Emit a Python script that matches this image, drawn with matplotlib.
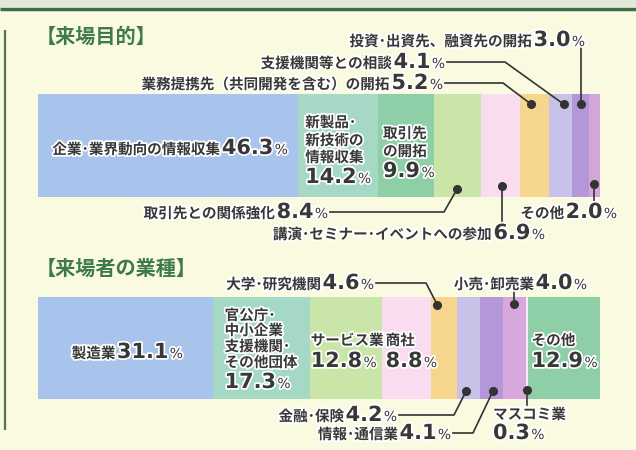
import matplotlib
matplotlib.use('Agg')
import matplotlib.pyplot as plt
import numpy as np
from matplotlib.offsetbox import TextArea, HPacker, AnnotationBbox
import matplotlib.patheffects as pe

# ---------------- data ----------------
purpose_labels = ['企業･業界動向の情報収集', '新製品･\n新技術の\n情報収集', '取引先\nの開拓',
                  '取引先との関係強化', '講演･セミナー･イベントへの参加',
                  '業務提携先（共同開発を含む）の開拓', '支援機関等との相談',
                  '投資･出資先、融資先の開拓', 'その他']
purpose_values = [46.3, 14.2, 9.9, 8.4, 6.9, 5.2, 4.1, 3.0, 2.0]
purpose_colors = ['#a9c4ec', '#a6d8c6', '#8ecfa8', '#c9e6a8', '#fadcf0',
                  '#f5d68c', '#c9c2e8', '#b397d8', '#d3a6da']

industry_labels = ['製造業', '官公庁･\n中小企業\n支援機関･\nその他団体', 'サービス業', '商社',
                   '大学･研究機関', '金融･保険', '情報･通信業', '小売･卸売業',
                   'マスコミ業', 'その他']
industry_values = [31.1, 17.3, 12.8, 8.8, 4.6, 4.2, 4.1, 4.0, 0.3, 12.9]
industry_colors = ['#a9c4ec', '#a6d8c6', '#c9e6a8', '#fadcf0', '#f5d68c',
                   '#c9c2e8', '#b397d8', '#d8a8dc', '#f1eef6', '#8ecfa8']

titles = ['【来場目的】', '【来場者の業種】']

# ---------------- style ----------------
BG = '#fafae1'
TXT = '#383838'
GREEN = '#3f7a4c'
LINE = '#333333'
JP = ['Noto Sans CJK JP', 'DejaVu Sans']
stroke = [pe.withStroke(linewidth=2.5, foreground='white')]
W, H = 636, 450

fig = plt.figure(figsize=(6.36, 4.5), dpi=100)
fig.patch.set_facecolor(BG)

ov = fig.add_axes([0, 0, 1, 1], zorder=5)
ov.set_xlim(0, W)
ov.set_ylim(H, 0)
ov.axis('off')
ov.patch.set_alpha(0)

# frame decorations
ov.add_patch(plt.Rectangle((0, 0), W, 7, color='#e4e7dc', lw=0))
ov.plot([0, W], [8.5, 8.5], color='#3d6b47', lw=2.5, solid_capstyle='butt')
ov.plot([5, 5], [30, 430], color='#56705a', lw=1.6, solid_capstyle='butt')


def bar_axes(values, colors, top, bottom, left=38, right=600):
    ax = fig.add_axes([left / W, 1 - bottom / H, (right - left) / W, (bottom - top) / H], zorder=2)
    lefts = np.concatenate([[0], np.cumsum(values)[:-1]])
    ax.barh(0.5, values, left=lefts, height=1, color=colors, edgecolor='none')
    ax.set_xlim(0, sum(values))
    ax.set_ylim(0, 1)
    ax.axis('off')
    return ax, lefts


ax1, left1 = bar_axes(purpose_values, purpose_colors, 94, 197)
ax2, left2 = bar_axes(industry_values, industry_colors, 297, 399)


def px(ax, x, y):
    return ov.transData.inverted().transform(ax.transData.transform((x, y)))


def seg_point(ax, lefts, values, i, frac, yfrac):
    return px(ax, lefts[i] + values[i] * frac, yfrac)


def props(kind):
    if kind == 'jp':
        d = dict(fontsize=10.5, fontweight='bold', family=JP, color=TXT)
    elif kind == 'num':
        d = dict(fontsize=15, fontweight='bold', family=['DejaVu Sans'], color=TXT)
    else:
        d = dict(fontsize=10, family=['DejaVu Sans'], color=TXT)
    d['path_effects'] = stroke
    return d


def mixed(x, y, jp, value, align=1.0):
    parts = []
    if jp:
        parts.append(TextArea(jp, textprops=props('jp')))
    parts.append(TextArea(f'{value:.1f}', textprops=props('num')))
    parts.append(TextArea('%', textprops=props('pct')))
    box = HPacker(children=parts, align='baseline', pad=0, sep=1)
    ab = AnnotationBbox(box, (x, y), xycoords=ov.transData, box_alignment=(align, 0.5),
                        frameon=False, pad=0, zorder=7)
    ov.add_artist(ab)


def lines_left(x, ys, text):
    for yy, s in zip(ys, text.split('\n')):
        ov.text(x, yy, s, ha='left', va='center', **props('jp'), zorder=7)


def leader(points, dot):
    pts = np.array(points + [tuple(dot)])
    ov.plot(pts[:, 0], pts[:, 1], color=LINE, lw=1.2, zorder=6)
    ov.plot([dot[0]], [dot[1]], 'o', color=LINE, ms=5.5, zorder=6)


def leader_dot_first(dot, points):
    pts = np.array([tuple(dot)] + points)
    ov.plot(pts[:, 0], pts[:, 1], color=LINE, lw=1.2, zorder=6)
    ov.plot([dot[0]], [dot[1]], 'o', color=LINE, ms=5.5, zorder=6)


# titles
ov.text(36, 36, titles[0], ha='left', va='center', fontsize=14.5, fontweight='bold',
        family=JP, color=GREEN, zorder=7)
ov.text(36, 268, titles[1], ha='left', va='center', fontsize=14.5, fontweight='bold',
        family=JP, color=GREEN, zorder=7)

# ---------- top bar labels ----------
pv, pl = purpose_values, purpose_labels
c0 = px(ax1, left1[0] + pv[0] / 2, 0.5)
mixed(c0[0] + 2, 148, pl[0], pv[0], align=0.5)
x1 = px(ax1, left1[1], 0.5)[0] + 7
lines_left(x1, [122, 140, 157], pl[1])
mixed(x1, 177, '', pv[1], align=0.0)
x2 = px(ax1, left1[2], 0.5)[0] + 5
lines_left(x2, [133, 151], pl[2])
mixed(x2, 171, '', pv[2], align=0.0)

# leader labels
d = seg_point(ax1, left1, pv, 7, 0.55, 0.9)
mixed(585, 40, pl[7], pv[7])
leader([(d[0], 47)], d)

d = seg_point(ax1, left1, pv, 6, 0.65, 0.9)
mixed(445, 62, pl[6], pv[6])
leader([(447, 62), (505, 62)], d)

d = seg_point(ax1, left1, pv, 5, 0.4, 0.9)
mixed(443, 83, pl[5], pv[5])
leader([(445, 83), (503, 83)], d)

d = seg_point(ax1, left1, pv, 3, 0.5, 0.08)
mixed(328, 212, pl[3], pv[3])
leader([(330, 212), (444, 212)], d)

d = seg_point(ax1, left1, pv, 4, 0.55, 0.11)
mixed(545, 233, pl[4], pv[4])
leader_dot_first(d, [(d[0], 222)])

d = seg_point(ax1, left1, pv, 8, 0.5, 0.13)
mixed(617, 212, pl[8], pv[8])
leader_dot_first(d, [(d[0], 201)])

# ---------- bottom bar labels ----------
iv, il = industry_values, industry_labels
c0 = px(ax2, left2[0] + iv[0] / 2, 0.5)
mixed(c0[0] + 2, 352, il[0], iv[0], align=0.5)
x1 = px(ax2, left2[1], 0.5)[0] + 12
lines_left(x1, [315, 330, 346, 362], il[1])
mixed(x1, 382, '', iv[1], align=0.0)
for i, off in [(2, 1), (3, 4), (9, 4)]:
    xx = px(ax2, left2[i], 0.5)[0] + off
    lines_left(xx, [340], il[i])
    mixed(xx, 361, '', iv[i], align=0.0)

d = seg_point(ax2, left2, iv, 4, 0.25, 0.92)
mixed(374, 283, il[4], iv[4])
leader([(376, 283), (426, 283)], d)

d = seg_point(ax2, left2, iv, 7, 0.45, 0.93)
mixed(587, 283, il[7], iv[7])
leader_dot_first(d, [(d[0], 291)])

d = seg_point(ax2, left2, iv, 5, 0.4, 0.08)
mixed(397, 415, il[5], iv[5])
leader([(399, 415), (454, 415)], d)

d = seg_point(ax2, left2, iv, 6, 0.55, 0.08)
mixed(451, 433, il[6], iv[6])
leader([(453, 433), (473, 433)], d)

d = seg_point(ax2, left2, iv, 8, 0.5, 0.09)
leader_dot_first(d, [(d[0], 405)])
lines_left(493, [414], il[8])
mixed(493, 433, '', iv[8], align=0.0)

fig.savefig('out.png', dpi=100, facecolor=BG)
